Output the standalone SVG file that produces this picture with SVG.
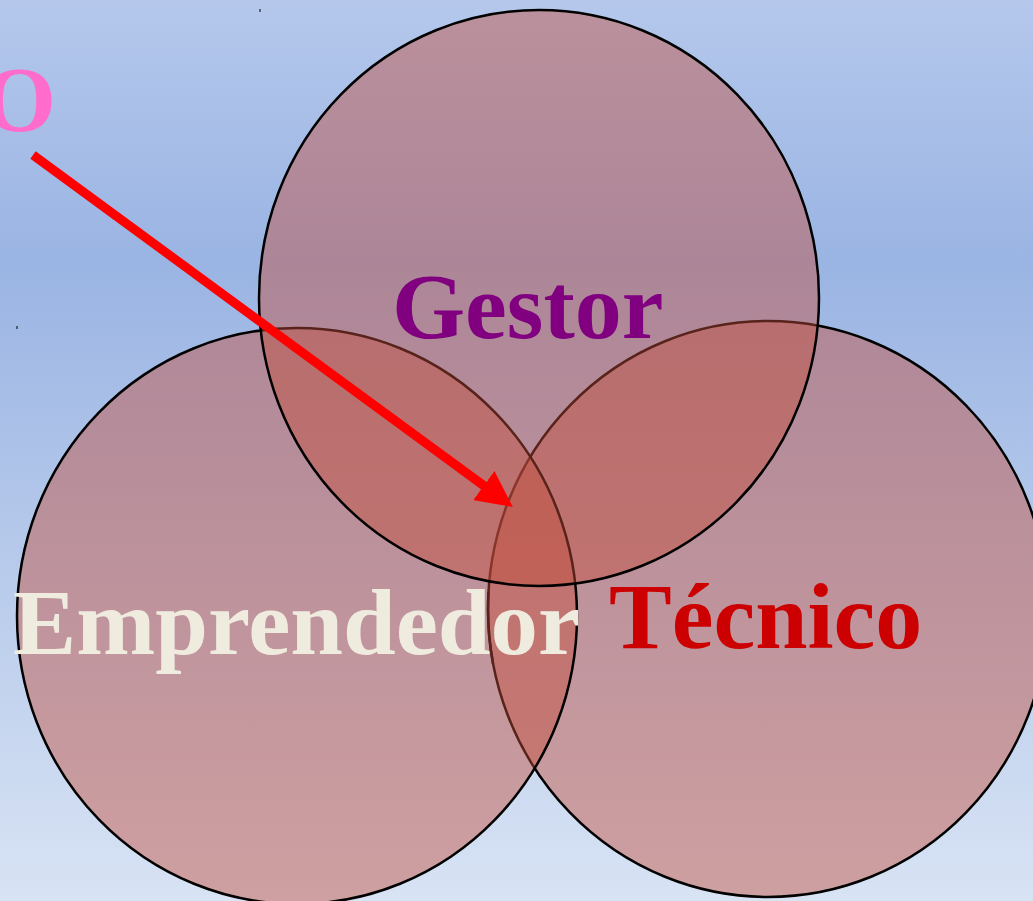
<svg xmlns="http://www.w3.org/2000/svg" width="1033" height="901" viewBox="0 0 1033 901">
  <defs>
    <linearGradient id="bg" x1="0" y1="0" x2="0" y2="1">
      <stop offset="0" stop-color="#b5c8ec"/>
      <stop offset="0.29" stop-color="#9ab4e3"/>
      <stop offset="1" stop-color="#d8e3f4"/>
    </linearGradient>
    <marker id="head" markerUnits="userSpaceOnUse" viewBox="0 0 36 36" markerWidth="36" markerHeight="36" refX="4" refY="18" orient="auto">
      <path d="M0,0 L36,18 L0,36 z" fill="#ff0000"/>
    </marker>
    <clipPath id="tline">
      <rect x="478" y="592" width="24" height="72"/>
    </clipPath>
  </defs>
  <style>
    .circle { fill: #c34e3b; fill-opacity: 0.45; stroke: #000; stroke-width: 2.5; }
    .lbl { font-family: "Liberation Serif", "Times New Roman", serif; font-weight: bold; font-size: 94px; }
  </style>
  <rect x="0" y="0" width="1033" height="901" fill="url(#bg)"/>
  <g id="marks" stroke="#000" stroke-width="1">
    <line x1="260" y1="9" x2="260" y2="12"/>
    <line x1="17" y1="326" x2="17" y2="329"/>
  </g>
  <g id="tecnico">
    <ellipse class="circle" cx="768" cy="609" rx="280" ry="288"/>
  </g>
  <g id="emprendedor">
    <ellipse class="circle" cx="297" cy="616" rx="280" ry="288"/>
  </g>
  <g id="gestor">
    <ellipse class="circle" cx="539" cy="298" rx="280" ry="288"/>
    <text class="lbl" x="392" y="338" fill="#800080">Gestor</text>
  </g>
  <g id="emprendedor-label">
    <text class="lbl" x="13" y="654" fill="#efebdf" textLength="567" lengthAdjust="spacingAndGlyphs">Emprendedor</text>
  </g>
  <ellipse cx="768" cy="609" rx="280" ry="288" fill="none" stroke="#58231b" stroke-width="2.5" clip-path="url(#tline)"/>
  <g id="tecnico-label">
    <text class="lbl" x="609" y="648" fill="#cc0000">Técnico</text>
  </g>
  <g id="o-label">
    <text class="lbl" x="-17" y="131" fill="#ff6ccc">O</text>
  </g>
  <g id="connectors">
    <line x1="33" y1="155" x2="487" y2="488" stroke="#ff0000" stroke-width="9" marker-end="url(#head)"/>
  </g>
</svg>
